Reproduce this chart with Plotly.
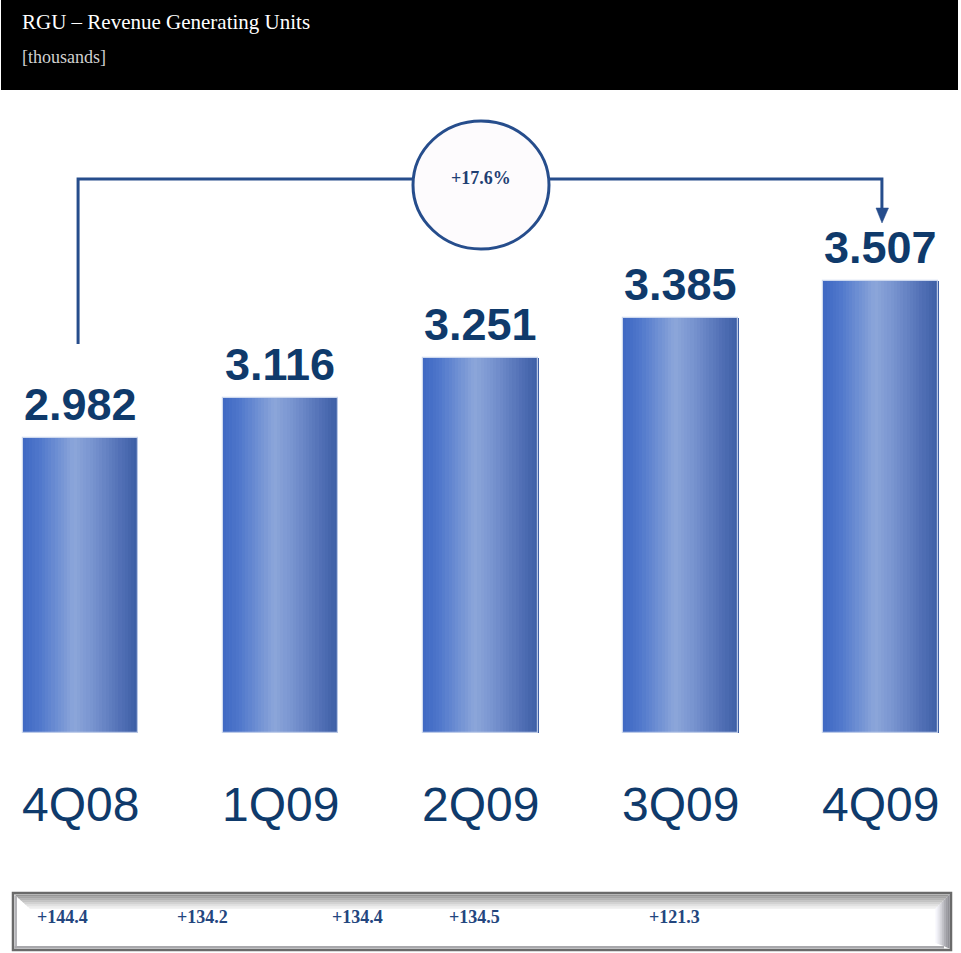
import plotly.graph_objects as go

# ---- data -------------------------------------------------------------
quarters = ["4Q08", "1Q09", "2Q09", "3Q09", "4Q09"]
rgu_thousands = [2.982, 3.116, 3.251, 3.385, 3.507]
value_labels = ["2.982", "3.116", "3.251", "3.385", "3.507"]
growth_label = "+17.6%"
net_adds = ["+144.4", "+134.2", "+134.4", "+134.5", "+121.3"]
net_adds_x = [35, 175, 330, 447, 647]   # left edge of each entry in the footer strip (px)

TITLE = "RGU \u2013 Revenue Generating Units"
SUBTITLE = "[thousands]"

# ---- page geometry ----------------------------------------------------
W, H = 961, 953
BASE = 2.0            # bars rise from this value
PX_PER_UNIT = 300.0   # vertical scale
BASE_PX = 733         # pixel row of the bar base
Y_RANGE = [BASE - (H - BASE_PX) / PX_PER_UNIT, BASE + BASE_PX / PX_PER_UNIT]
X_RANGE = [-0.4, 4.4]
BAR_W = 0.575

NAVY = "#0f3a6b"
LINE = "#264d8c"


def px(x):
    return x / W


def py(y):
    return 1 - y / H


def lerp(c1, c2, t):
    return tuple(round(a + (b - a) * t) for a, b in zip(c1, c2))


# horizontal cylinder-style shading for the bars
STOPS = [(0.0, (62, 104, 194)), (0.15, (80, 120, 204)), (0.45, (140, 166, 218)),
         (0.62, (118, 146, 206)), (0.85, (82, 112, 182)), (1.0, (60, 94, 164))]


def shade(t):
    for (t0, c0), (t1, c1) in zip(STOPS[:-1], STOPS[1:]):
        if t <= t1:
            return lerp(c0, c1, (t - t0) / (t1 - t0))
    return STOPS[-1][1]


fig = go.Figure()

N = 36
sw = BAR_W / N
for k in range(N):
    c = shade((k + 0.5) / N)
    fig.add_trace(go.Bar(
        x=quarters, y=[v - BASE for v in rgu_thousands], base=BASE,
        width=sw * 1.15, offset=-BAR_W / 2 + k * sw,
        marker=dict(color="rgb(%d,%d,%d)" % c, line=dict(width=0)),
        hoverinfo="skip", showlegend=False,
    ))

# faint light rim around each bar
fig.add_trace(go.Bar(
    x=quarters, y=[v - BASE for v in rgu_thousands], base=BASE,
    width=BAR_W, offset=-BAR_W / 2,
    marker=dict(color="rgba(0,0,0,0)", line=dict(color="rgba(200,212,236,0.9)", width=1.2)),
    hoverinfo="skip", showlegend=False,
))

annotations = []

# value labels above bars
for q, v, lab in zip(quarters, rgu_thousands, value_labels):
    annotations.append(dict(
        x=q, y=v, xref="x", yref="y", text="<b>%s</b>" % lab, showarrow=False,
        yanchor="bottom", yshift=6,
        font=dict(family="Liberation Sans, Arial", size=45, color=NAVY),
    ))

# quarter labels beneath bars
for q in quarters:
    annotations.append(dict(
        x=q, y=py(804), xref="x", yref="paper", text=q, showarrow=False,
        yanchor="middle",
        font=dict(family="Liberation Sans, Arial", size=48, color=NAVY),
    ))

# header
annotations.append(dict(x=px(20), y=py(22), xref="paper", yref="paper", text=TITLE,
                        showarrow=False, xanchor="left", yanchor="middle",
                        font=dict(family="Liberation Serif, serif", size=21, color="white")))
annotations.append(dict(x=px(20), y=py(57), xref="paper", yref="paper", text=SUBTITLE,
                        showarrow=False, xanchor="left", yanchor="middle",
                        font=dict(family="Liberation Serif, serif", size=18, color="#d0d0d0")))

# growth badge text
annotations.append(dict(x=px(481), y=py(178), xref="paper", yref="paper",
                        text="<b>%s</b>" % growth_label, showarrow=False,
                        xanchor="center", yanchor="middle",
                        font=dict(family="Liberation Serif, serif", size=18, color="#1f3f73")))

# footer entries
for t, xl in zip(net_adds, net_adds_x):
    annotations.append(dict(x=px(xl), y=py(917), xref="paper", yref="paper",
                            text="<b>%s</b>" % t, showarrow=False, xanchor="left",
                            yanchor="middle",
                            font=dict(family="Liberation Serif, serif", size=18, color="#23467e")))

shapes = []

# black header band
shapes.append(dict(type="rect", xref="paper", yref="paper", x0=px(1), x1=px(958),
                   y0=py(90), y1=py(0), fillcolor="black", line=dict(width=0), layer="below"))

# bracket from first to last quarter
top_y = py(179)
shapes.append(dict(type="path", xref="x", yref="paper",
                   path="M -0.01,%f L -0.01,%f L 4.005,%f L 4.005,%f" % (py(344), top_y, top_y, py(209)),
                   line=dict(color=LINE, width=3)))
shapes.append(dict(type="path", xref="paper", yref="paper",
                   path="M %f,%f L %f,%f L %f,%f Z" % (px(876), py(208), px(888.5), py(208), px(882), py(223)),
                   fillcolor=LINE, line=dict(color=LINE, width=0.5)))
# badge circle
shapes.append(dict(type="circle", xref="paper", yref="paper",
                   x0=px(413), x1=px(549), y0=py(249), y1=py(121),
                   fillcolor="#fdfbfd", line=dict(color=LINE, width=3)))

# footer bevelled strip
L, R, T, B = 13, 951, 893, 950
shapes.append(dict(type="rect", xref="paper", yref="paper", x0=px(L), x1=px(R), y0=py(B), y1=py(T),
                   fillcolor="white", line=dict(color="#6a6a6a", width=2.5)))
# top bevel bands
TOP_BEV = 14
greys_top = [150, 165, 180, 195, 210, 225, 238]
bt = TOP_BEV / len(greys_top)
for i, g in enumerate(greys_top):
    y0 = T + 1.5 + i * bt
    y1 = y0 + bt + 0.3
    shapes.append(dict(type="path", xref="paper", yref="paper",
                       path="M %f,%f L %f,%f L %f,%f L %f,%f Z" % (
                           px(L + 1.5 + i * bt * 1.1), py(y0), px(R - 1.5 - i * bt), py(y0),
                           px(R - 1.5 - (i + 1) * bt), py(y1), px(L + 1.5 + (i + 1) * bt * 1.1), py(y1)),
                       fillcolor="rgb(%d,%d,%d)" % (g, g, g), line=dict(width=0)))
# right bevel bands
RB = 14
greys_r = [245, 232, 215, 195, 175, 158, 145]
br = RB / len(greys_r)
for i, g in enumerate(greys_r):
    x0 = R - 1.5 - RB + i * br
    x1 = x0 + br + 0.3
    inset0 = RB - i * br
    inset1 = RB - (i + 1) * br
    shapes.append(dict(type="path", xref="paper", yref="paper",
                       path="M %f,%f L %f,%f L %f,%f L %f,%f Z" % (
                           px(x0), py(T + 1.5 + inset0), px(x1), py(T + 1.5 + inset1),
                           px(x1), py(B - 1.5 - inset1 * 0.4), px(x0), py(B - 1.5 - inset0 * 0.4)),
                       fillcolor="rgb(%d,%d,%d)" % (g, g, min(g + 6, 255)), line=dict(width=0)))
# left and bottom thin bevels
shapes.append(dict(type="rect", xref="paper", yref="paper", x0=px(L + 1.5), x1=px(L + 4),
                   y0=py(B - 1.5), y1=py(T + 3), fillcolor="#b4b4b8", line=dict(width=0)))
shapes.append(dict(type="rect", xref="paper", yref="paper", x0=px(L + 1.5), x1=px(R - 7),
                   y0=py(B - 1.5), y1=py(B - 4), fillcolor="#a8a8ac", line=dict(width=0)))

fig.update_layout(
    width=W, height=H,
    margin=dict(l=0, r=0, t=0, b=0),
    paper_bgcolor="white", plot_bgcolor="white",
    barmode="overlay", bargap=0,
    showlegend=False,
    xaxis=dict(range=X_RANGE, visible=False, type="category", categoryorder="array",
               categoryarray=quarters, fixedrange=True),
    yaxis=dict(range=Y_RANGE, visible=False, fixedrange=True),
    annotations=annotations,
    shapes=shapes,
)

fig.write_html("out.html")
